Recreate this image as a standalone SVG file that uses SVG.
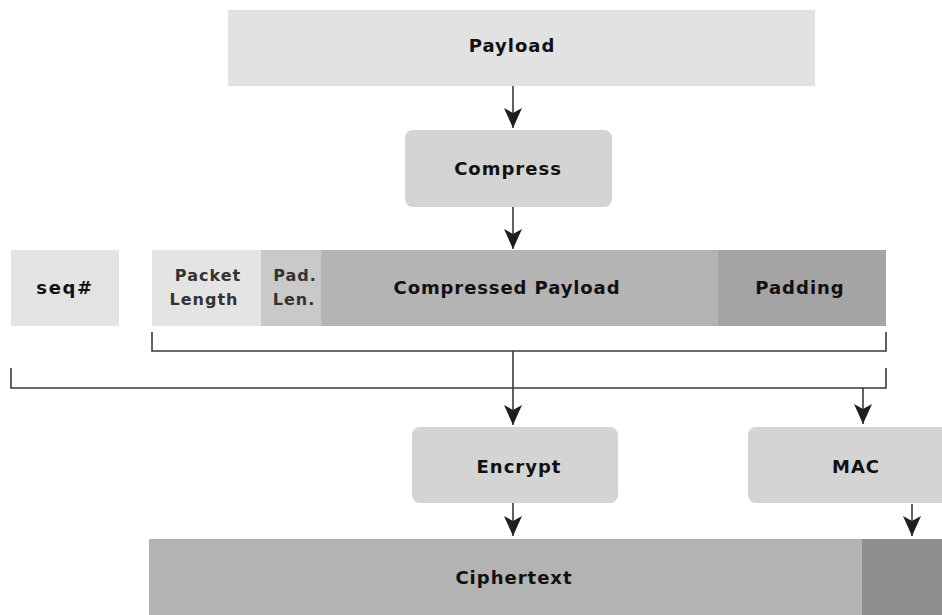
<svg xmlns="http://www.w3.org/2000/svg" width="942" height="615" viewBox="0 0 942 615">
  <style>
    text { font-family: "DejaVu Sans", "Liberation Sans", sans-serif; font-weight: bold; fill: #111; text-anchor: middle; letter-spacing: 1px; }
    .big { font-size: 18px; }
    .small { font-size: 16px; fill: #333; }
    .conn { fill: none; stroke: #3a3a3a; stroke-width: 1.6; }
    .arrow { marker-end: url(#head); }
  </style>
  <defs>
    <marker id="head" viewBox="0 0 20 18" refX="20" refY="9" markerWidth="20" markerHeight="18" orient="auto" markerUnits="userSpaceOnUse">
      <path d="M0,0 L20,9 L0,18 L5,9 Z" fill="#1e1e1e"/>
    </marker>
  </defs>

  <rect width="942" height="615" fill="#ffffff"/>

  <g id="payload">
    <rect x="228" y="10" width="587" height="76" fill="#e2e2e2"/>
    <text class="big" x="512" y="52">Payload</text>
  </g>

  <g id="compress">
    <rect x="405" y="130" width="207" height="77" rx="8" fill="#d4d4d4"/>
    <text class="big" x="508" y="175">Compress</text>
  </g>

  <g id="seq">
    <rect x="11" y="250" width="108" height="76" fill="#e3e3e3"/>
    <text class="big" x="65" y="294" style="letter-spacing:1.6px">seq#</text>
  </g>

  <g id="packet-length">
    <rect x="152" y="250" width="109" height="76" fill="#e4e4e4"/>
    <text class="small" x="208" y="281">Packet</text>
    <text class="small" x="204" y="305">Length</text>
  </g>

  <g id="pad-len">
    <rect x="261" y="250" width="60" height="76" fill="#c9c9c9"/>
    <text class="small" x="295" y="281">Pad.</text>
    <text class="small" x="294" y="305">Len.</text>
  </g>

  <g id="compressed-payload">
    <rect x="321" y="250" width="397" height="76" fill="#b4b4b4"/>
    <text class="big" x="507" y="294" style="letter-spacing:0.9px">Compressed Payload</text>
  </g>

  <g id="padding">
    <rect x="718" y="250" width="168" height="76" fill="#a4a4a4"/>
    <text class="big" x="800" y="294">Padding</text>
  </g>

  <g id="encrypt">
    <rect x="412" y="427" width="206" height="76" rx="8" fill="#d4d4d4"/>
    <text class="big" x="519" y="473">Encrypt</text>
  </g>

  <g id="mac">
    <rect x="748" y="427" width="210" height="76" rx="8" fill="#d4d4d4"/>
    <text class="big" x="856" y="473">MAC</text>
  </g>

  <g id="ciphertext">
    <rect x="149" y="539" width="793" height="76" fill="#b3b3b3"/>
    <rect x="862" y="539" width="80" height="76" fill="#8f8f8f"/>
    <text class="big" x="514" y="584">Ciphertext</text>
  </g>

  <g id="connectors">
    <!-- brackets grouping the packet fields, and seq# plus packet -->
    <path class="conn" d="M152,332 V351 H886 V332"/>
    <path class="conn" d="M11,368 V388 H886 V368"/>
    <!-- flow arrows -->
    <line class="conn arrow" x1="513" y1="86" x2="513" y2="128"/>
    <line class="conn arrow" x1="513" y1="207" x2="513" y2="249"/>
    <line class="conn arrow" x1="513" y1="351" x2="513" y2="425"/>
    <line class="conn arrow" x1="863" y1="388" x2="863" y2="424"/>
    <line class="conn arrow" x1="513" y1="503" x2="513" y2="536"/>
    <line class="conn arrow" x1="912" y1="504" x2="912" y2="536"/>
  </g>
</svg>
